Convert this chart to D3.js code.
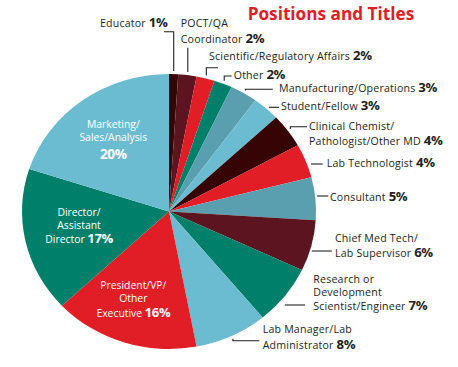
<!DOCTYPE html>
<html>
<head>
<meta charset="utf-8">
<script src="https://cdn.jsdelivr.net/npm/d3@7"></script>
<style>
  body { margin: 0; background: #fff; }
  text { font-family: "Open Sans", sans-serif; }
</style>
</head>
<body>
<svg width="458" height="367"></svg>
<script>
// slices go clockwise from 12 o'clock
const categories = ['Educator', 'POCT/QA Coordinator', 'Scientific/Regulatory Affairs', 'Other',
  'Manufacturing/Operations', 'Student/Fellow', 'Clinical Chemist/Pathologist/Other MD',
  'Lab Technologist', 'Consultant', 'Chief Med Tech/Lab Supervisor',
  'Research or Development Scientist/Engineer', 'Lab Manager/Lab Administrator',
  'President/VP/Other Executive', 'Director/Assistant Director', 'Marketing/Sales/Analysis'];
const values = [1, 2, 2, 2, 3, 3, 4, 4, 5, 6, 7, 8, 16, 17, 20];
// text lines for each label (the % is appended to the last line)
const labelLines = [
  ['Educator'], ['POCT/QA', 'Coordinator'], ['Scientific/Regulatory Affairs'], ['Other'],
  ['Manufacturing/Operations'], ['Student/Fellow'], ['Clinical Chemist/', 'Pathologist/Other MD'],
  ['Lab Technologist'], ['Consultant'], ['Chief Med Tech/', 'Lab Supervisor'],
  ['Research or', 'Development', 'Scientist/Engineer'], ['Lab Manager/Lab', 'Administrator'],
  ['President/VP/', 'Other', 'Executive'], ['Director/', 'Assistant', 'Director'],
  ['Marketing/', 'Sales/Analysis', '']
];

const data = categories.map((c, i) => ({ name: c, value: values[i], lines: labelLines[i] }));

const colors = {
  light: '#6bbcd1', steel: '#5a9fb0', teal: '#00806a', red: '#e11d25',
  maroon: '#5c1520', dark: '#370405'
};
const color = d3.scaleOrdinal()
  .domain(categories)
  .range([colors.dark, colors.maroon, colors.red, colors.teal, colors.steel, colors.light,
    colors.dark, colors.red, colors.steel, colors.maroon, colors.teal, colors.light,
    colors.red, colors.teal, colors.light]);

const svg = d3.select('svg');
const cx = 169, cy = 211.5, rx = 147, ry = 137.5;

const pie = d3.pie().sort(null).value(d => d.value);
const arcs = pie(data);
const arc = d3.arc().innerRadius(0).outerRadius(ry);

// pie is a little wider than tall in the original
svg.append('g')
  .attr('transform', `translate(${cx},${cy}) scale(${rx / ry},1)`)
  .selectAll('path')
  .data(arcs)
  .enter()
  .append('path')
  .attr('d', arc)
  .attr('fill', d => color(d.data.name));

// point on the ellipse edge at angle a (0 = up, clockwise), pushed out by gap
function edgePoint(a, gap) {
  return [cx + (rx + gap) * Math.sin(a), cy - (ry + gap) * Math.cos(a)];
}
function edgeX(y) {
  const t = (y - cy) / ry;
  return cx + rx * Math.sqrt(1 - t * t);
}

// label layout: v = go up/down from the slice then across, h = straight across at y
const outside = [
  { mode: 'v', y: 31.7, x2: 164, tx: 100, ty: 26.7 },
  { mode: 'v', y: 47.7, x2: null, tx: 180.7, ty: 27.3 },
  { mode: 'v', y: 67.7, x2: 218, tx: 209, ty: 60 },
  { mode: 'v', y: 76, x2: 231.7, tx: 233.7, ty: 79.3 },
  { mode: 'v', y: 89.3, x2: 272.7, tx: 279, ty: 91.7 },
  { mode: 'h', y: 107.3, x2: 279, gap: 4, tx: 281, ty: 110 },
  { mode: 'v', y: 126.7, x2: 307, tx: 309, ty: 130 },
  { mode: 'h', y: 164, x2: 322.7, gap: 4, tx: 326.7, ty: 166.7 },
  { mode: 'h', y: 196, x2: 328.3, gap: 2, tx: 330, ty: 200.7 },
  { mode: 'h', y: 251, x2: 331.7, gap: 2, tx: 335, ty: 241.5, lh: 15.8 },
  { mode: 'h', y: 305, x2: 305, gap: 8, tx: 313.3, ty: 283, lh: [13, 14] },
  { mode: 'v', y: 340.7, x2: 259.3, tx: 262.7, ty: 333.3 }
];

const line = d3.line();
outside.forEach((o, i) => {
  const a = arcs[i];
  let pts;
  if (o.mode === 'v') {
    const p = edgePoint((a.startAngle + a.endAngle) / 2, 3);
    pts = [p, [p[0], o.y]];
    if (o.x2 !== null) pts.push([o.x2, o.y]);
  } else {
    pts = [[edgeX(o.y) + o.gap, o.y], [o.x2, o.y]];
  }
  svg.append('path')
    .attr('d', line(pts))
    .attr('fill', 'none')
    .attr('stroke', '#231f20')
    .attr('stroke-width', 1.1);

  const lines = a.data.lines;
  const t = svg.append('text')
    .attr('x', o.tx)
    .attr('y', o.ty)
    .attr('fill', '#231f20')
    .attr('font-size', 10.6)
    .attr('letter-spacing', 0.2);
  let y = o.ty;
  lines.forEach((l, j) => {
    if (j > 0) y += Array.isArray(o.lh) ? o.lh[j - 1] : (o.lh || 15.4);
    t.append('tspan').attr('x', o.tx).attr('y', y).text(l + (j === lines.length - 1 ? ' ' : ''));
  });
  t.append('tspan')
    .attr('font-weight', 700)
    .attr('font-size', 13.2)
    .attr('letter-spacing', -0.4)
    .text(a.data.value + '%');
});

// labels sitting inside the three big slices
const inside = [
  { idx: 12, x: 133.3, ys: [289, 302.3, 316.7] },
  { idx: 13, x: 79, ys: [216, 229, 243.3] },
  { idx: 14, x: 113.3, ys: [128, 141, 159] }
];
inside.forEach(o => {
  const d = arcs[o.idx].data;
  const t = svg.append('text')
    .attr('text-anchor', 'middle')
    .attr('fill', '#fff')
    .attr('font-size', 10.4);
  d.lines.forEach((l, j) => {
    const ts = t.append('tspan').attr('x', o.x).attr('y', o.ys[j]);
    const last = j === d.lines.length - 1;
    if (l) ts.append('tspan').text(l + (last ? ' ' : ''));
    if (last) {
      ts.append('tspan')
        .attr('font-weight', 700)
        .attr('font-size', l ? 13 : 13.6)
        .attr('letter-spacing', -0.4)
        .text(d.value + '%');
    }
  });
});

svg.append('text')
  .attr('x', 247.7)
  .attr('y', 20)
  .attr('fill', '#e11d25')
  .attr('font-weight', 700)
  .attr('font-size', 17.2)
  .text('Positions and Titles');
</script>
</body>
</html>
